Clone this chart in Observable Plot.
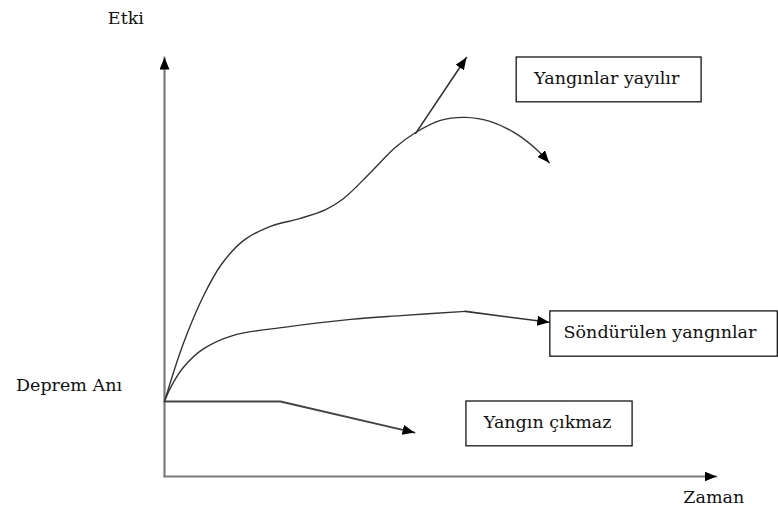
<!DOCTYPE html>
<html>
<head>
<meta charset="utf-8">
<script src="https://cdn.jsdelivr.net/npm/d3@7"></script>
<script src="https://cdn.jsdelivr.net/npm/@observablehq/plot@0.6"></script>
<style>
  html, body { margin: 0; padding: 0; background: #fff; }
  #chart svg { display: block; }
  #chart svg text { font-family: 'DejaVu Serif', 'Liberation Serif', serif; }
</style>
</head>
<body>
<div id="chart"></div>
<script>
// ---- Data (schematic units: Zaman 0–100, Etki 0–100) ----
const axisVT = [0, 0];
const axisVE = [0, 100];
const axisHT = [0, 100];
const axisHE = [0, 0];

// "Yangınlar yayılır" main curve
const yayilirT = [0, 3.4, 7.1, 10.3, 14.3, 19.2, 24.6, 29.2, 32.4, 37.3, 41.8, 45.5, 50.0, 54.5, 59.1, 63.6, 67.2, 69.7];
const yayilirE = [17.9, 31.7, 43.2, 50.6, 56.3, 59.7, 61.6, 63.7, 66.3, 72.5, 78.5, 82.1, 85.0, 85.7, 84.7, 81.9, 78.3, 74.9];
// branch going up
const branchT = [45.5, 54.7];
const branchE = [81.9, 100];

// "Söndürülen yangınlar" curve + straight tail
const sondT = [0, 1.1, 3.4, 7.1, 12.5, 21.6, 33.7, 42.8, 54.5];
const sondE = [17.9, 21.2, 26.0, 30.5, 33.7, 35.6, 37.5, 38.4, 39.4];
const sondTailT = [54.5, 69.7];
const sondTailE = [39.4, 36.8];

// "Yangın çıkmaz"
const cikmazT = [0, 21.0, 45.3];
const cikmazE = [17.9, 17.9, 10.5];

// Free labels
const labelTexts = ["Etki", "Deprem Anı", "Zaman"];
const labelT = [-7.0, -17.3, 99.5];
const labelE = [109.4, 21.8, -5.1];

// Boxed labels
const boxTexts = ["Yangınlar yayılır", "Söndürülen yangınlar", "Yangın çıkmaz"];
const boxX1 = [63.8, 69.9, 54.7];
const boxX2 = [97.3, 111.1, 84.8];
const boxY1 = [89.3, 28.6, 7.2];
const boxY2 = [100, 39.4, 17.9];
const boxTextT = [80.1, 72.3, 69.4];
const boxTextE = [95.1, 34.5, 13.0];

// ---- helpers ----
const pts = (T, E) => T.map((t, i) => ({t, e: E[i]}));
const NS = "http://www.w3.org/2000/svg";
function head(len, wid) {
  return function (color, context) {
    const m = document.createElementNS(NS, "marker");
    m.setAttribute("viewBox", `${-len} ${-wid / 2} ${len} ${wid}`);
    m.setAttribute("markerWidth", len);
    m.setAttribute("markerHeight", wid);
    m.setAttribute("markerUnits", "userSpaceOnUse");
    m.setAttribute("orient", "auto");
    m.setAttribute("refX", 0);
    m.setAttribute("refY", 0);
    const p = document.createElementNS(NS, "path");
    p.setAttribute("d", `M${-len},${-wid / 2}L0,0L${-len},${wid / 2}Z`);
    p.setAttribute("fill", "#000");
    p.setAttribute("stroke", "none");
    m.appendChild(p);
    return m;
  };
}
const arrowHead = head(12, 10);

const boxes = boxTexts.map((s, i) => ({s, x1: boxX1[i], x2: boxX2[i], y1: boxY1[i], y2: boxY2[i], tx: boxTextT[i], ty: boxTextE[i]}));
const labels = labelTexts.map((s, i) => ({s, t: labelT[i], e: labelE[i]}));

const FONT = "'DejaVu Serif', 'Liberation Serif', serif";
const FS = 17.5;

const chart = Plot.plot({
  width: 778,
  height: 509,
  marginLeft: 164,
  marginRight: 62,
  marginTop: 57,
  marginBottom: 33,
  x: {domain: [0, 100], axis: null},
  y: {domain: [0, 100], axis: null},
  style: {background: "#fff", overflow: "visible"},
  marks: [
    // axes
    Plot.line(pts(axisVT, axisVE), {x: "t", y: "e", stroke: "#7a7a7a", strokeWidth: 2.2, markerEnd: arrowHead}),
    Plot.line(pts(axisHT, axisHE), {x: "t", y: "e", stroke: "#7a7a7a", strokeWidth: 2.2, markerEnd: arrowHead}),
    // curves
    Plot.line(pts(yayilirT, yayilirE), {x: "t", y: "e", curve: "catmull-rom", stroke: "#333", strokeWidth: 1.4, markerEnd: arrowHead}),
    Plot.line(pts(branchT, branchE), {x: "t", y: "e", stroke: "#333", strokeWidth: 1.6, markerEnd: arrowHead}),
    Plot.line(pts(sondT, sondE), {x: "t", y: "e", curve: "catmull-rom", stroke: "#333", strokeWidth: 1.4}),
    Plot.line(pts(sondTailT, sondTailE), {x: "t", y: "e", stroke: "#333", strokeWidth: 1.6, markerEnd: arrowHead}),
    Plot.line(pts(cikmazT, cikmazE), {x: "t", y: "e", stroke: "#444", strokeWidth: 1.8, markerEnd: arrowHead}),
    // boxes
    Plot.rect(boxes, {x1: "x1", x2: "x2", y1: "y1", y2: "y2", fill: "#fff", stroke: "#000", strokeWidth: 1.2}),
    Plot.text(boxes.filter((d, i) => i !== 1), {x: "tx", y: "ty", text: "s", textAnchor: "middle", fontSize: FS, fontFamily: FONT, fill: "#111"}),
    Plot.text(boxes.filter((d, i) => i === 1), {x: "tx", y: "ty", text: "s", textAnchor: "start", fontSize: FS, fontFamily: FONT, fill: "#111"}),
    // free labels
    Plot.text(labels, {x: "t", y: "e", text: "s", textAnchor: "middle", fontSize: FS, fontFamily: FONT, fill: "#111"})
  ]
});
document.getElementById("chart").appendChild(chart);
</script>
</body>
</html>
